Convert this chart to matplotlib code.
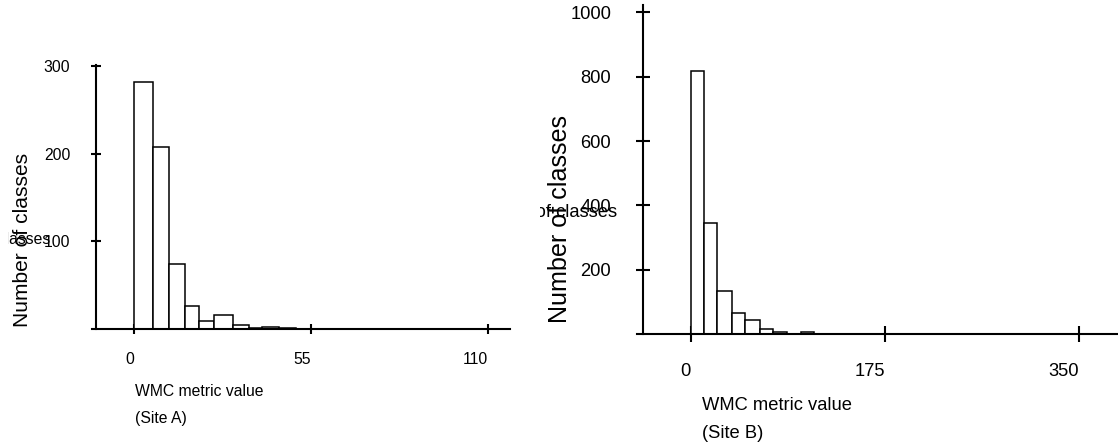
import matplotlib
matplotlib.use('Agg')
import matplotlib.pyplot as plt
import numpy as np
from matplotlib.transforms import Bbox, TransformedBbox

# Histogram data
edges_a = [0, 5.7, 10.7, 15.8, 20.0, 24.8, 30.8, 35.7, 39.7, 44.9, 50.2]
counts_a = [282, 208, 74, 26, 9, 16, 4, 1, 2, 1]
xticks_a = [0, 55, 110]
yticks_a = [100, 200, 300]

edges_b = [0, 11.7, 23.4, 37.2, 48.6, 62.5, 73.9, 87.1, 99.2, 111.2]
counts_b = [819, 345, 133, 65, 42, 15, 7, 1, 7]
xticks_b = [0, 175, 350]
yticks_b = [200, 400, 600, 800, 1000]

ylabel = 'Number of classes'
xlabel = 'WMC metric value'

plt.rcParams['font.family'] = ['Liberation Sans', 'DejaVu Sans']

W, H = 1118, 447
fig = plt.figure(figsize=(W / 100, H / 100), dpi=100)


def px_axes(left, top, right, bottom):
    return fig.add_axes([left / W, 1 - bottom / H, (right - left) / W, (bottom - top) / H])


def draw_hist(ax, edges, counts, xlim, ylim, spine_x, xticks, yticks,
              fs, xtick_len, ytick_len, xpad, ypad):
    edges = np.array(edges)
    ax.bar(edges[:-1], counts, width=np.diff(edges), align='edge',
           facecolor='white', edgecolor='black', linewidth=1.1, zorder=3)
    ax.set_xlim(*xlim)
    ax.set_ylim(*ylim)
    for s in ['top', 'right']:
        ax.spines[s].set_visible(False)
    ax.spines['left'].set_position(('data', spine_x))
    ax.spines['left'].set_bounds(0, ylim[1])
    for s in ['left', 'bottom']:
        ax.spines[s].set_linewidth(1.5)
        ax.spines[s].set_zorder(4)
    ax.set_xticks(xticks)
    ax.set_yticks(yticks)
    ax.tick_params(axis='x', direction='inout', length=xtick_len, width=1.5,
                   labelsize=fs, pad=xpad)
    ax.tick_params(axis='y', direction='inout', length=ytick_len, width=1.5,
                   labelsize=fs, pad=ypad)
    for lab in ax.get_xticklabels():
        lab.set_horizontalalignment('right')


def clip_left(txt, x_px):
    txt.set_clip_box(TransformedBbox(Bbox.from_extents(x_px / W, 0, 1, 1), fig.transFigure))
    txt.set_clip_on(True)


# Site A
ax1 = px_axes(92, 65, 510, 329)
draw_hist(ax1, edges_a, counts_a, (-13.15, 116.75), (0, 301.7), -11.9,
          xticks_a, yticks_a, 11.3, 7.2, 7.2, 13, 15)

# Site B
ax2 = px_axes(637, 5, 1118, 334)
draw_hist(ax2, edges_b, counts_b, (-48.4, 385.3), (0, 1023), -43,
          xticks_b, yticks_b, 13.2, 11.5, 9.4, 15.3, 18.3)

# Rotated y labels
fig.text(23 / W, 1 - 240 / H, ylabel, rotation=90, ha='center', va='center',
         fontsize=15.1)
fig.text(560 / W, 1 - 219 / H, ylabel, rotation=90, ha='center', va='center',
         fontsize=18.1)

# Leftover horizontal labels, clipped at the panel edges
ta = fig.text(50 / W, 1 - 240 / H, ylabel, ha='right', va='center', fontsize=11.3)
clip_left(ta, 8)
tb = fig.text(617 / W, 1 - 212 / H, ylabel, ha='right', va='center', fontsize=13.2)
clip_left(tb, 540)

# X labels
fig.text(135 / W, 1 - 391 / H, xlabel, ha='left', va='center', fontsize=11.3)
fig.text(135 / W, 1 - 419 / H, '(Site A)', ha='left', va='center', fontsize=11.3)
fig.text(702 / W, 1 - 405 / H, xlabel, ha='left', va='center', fontsize=13.2)
fig.text(702 / W, 1 - 433 / H, '(Site B)', ha='left', va='center', fontsize=13.2)

plt.savefig('out.png', dpi=100)
